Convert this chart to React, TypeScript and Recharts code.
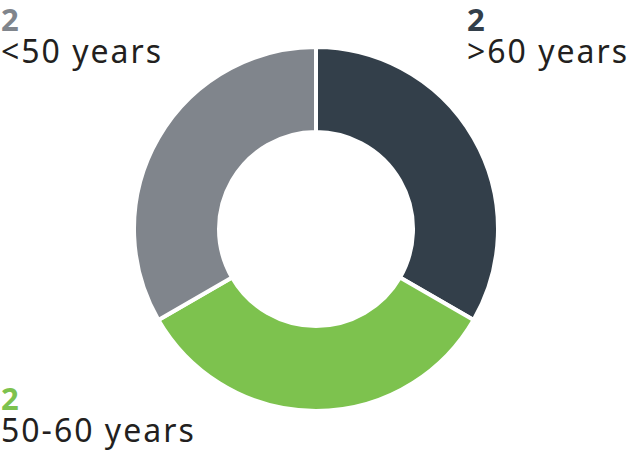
import React from 'react';
import { PieChart, Pie, Cell } from 'recharts';

const groups = ['>60 years', '50-60 years', '<50 years'];
const counts = [2, 2, 2];
const colors = ['#333f4a', '#7dc24e', '#80858c'];

const data = groups.map((name, i) => ({ name, value: counts[i] }));

const labelPos = [
  { left: 467, top: 4 },
  { left: 1, top: 383 },
  { left: 1, top: 4 },
];

const App: React.FC = () => {
  return (
    <div style={{ position: 'absolute', left: 0, top: 0, width: 630, height: 450, background: '#fff', fontFamily: '"Noto Sans", sans-serif', overflow: 'hidden' }}>
      <PieChart width={630} height={450} margin={{ top: 0, right: 0, bottom: 0, left: 0 }}>
        <Pie
          data={data}
          dataKey="value"
          cx={316}
          cy={229}
          innerRadius={97}
          outerRadius={182}
          startAngle={90}
          endAngle={-270}
          stroke="#ffffff"
          strokeWidth={4}
          isAnimationActive={false}
        >
          {data.map((d, i) => (
            <Cell key={d.name} fill={colors[i]} />
          ))}
        </Pie>
      </PieChart>
      {data.map((d, i) => (
        <div
          key={d.name}
          style={{ position: 'absolute', left: labelPos[i].left, top: labelPos[i].top, lineHeight: '31px', whiteSpace: 'nowrap' }}
        >
          <div style={{ color: colors[i], fontSize: 31, fontWeight: 700 }}>{d.value}</div>
          <div style={{ color: '#231f20', fontSize: 32, fontWeight: 400, letterSpacing: 2 }}>{d.name}</div>
        </div>
      ))}
    </div>
  );
};

export default App;
